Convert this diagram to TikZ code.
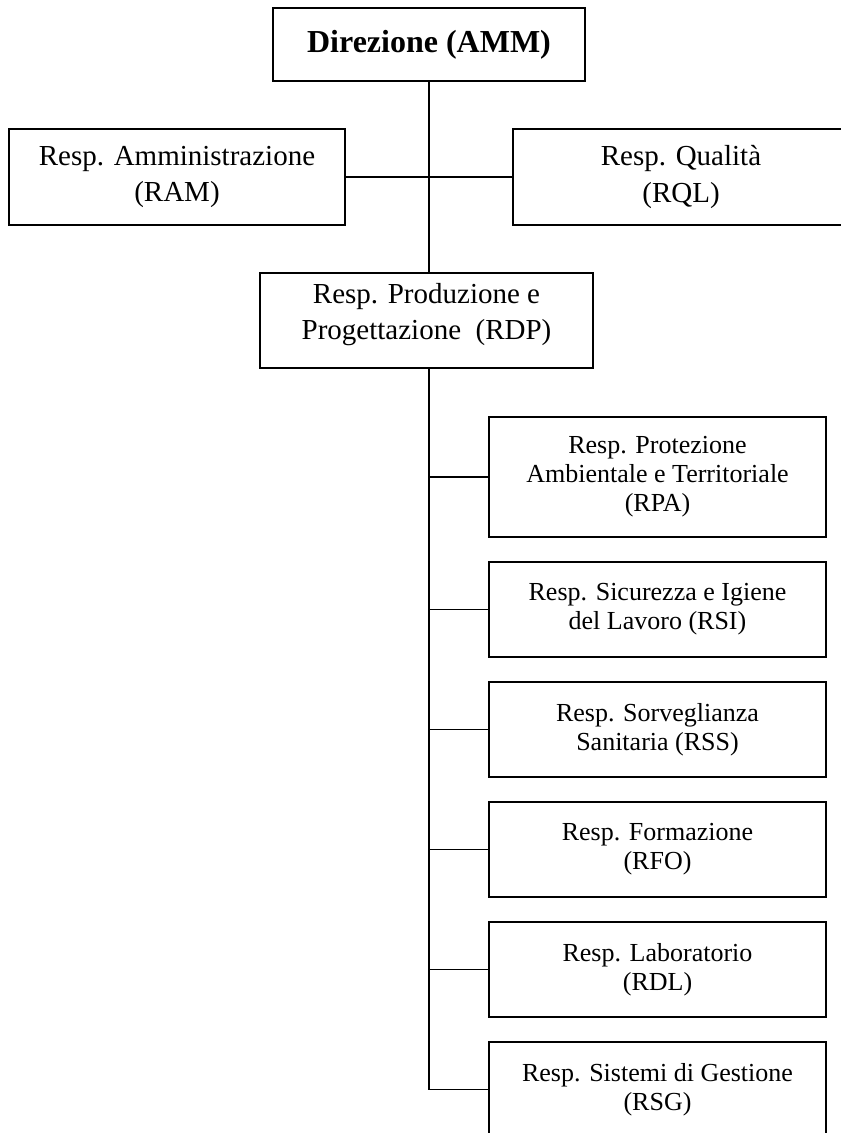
\documentclass[tikz,border=0pt]{standalone}
\usepackage{fontspec}
\setmainfont{Liberation Serif}
\usetikzlibrary{positioning}
\begin{document}
\begin{tikzpicture}[x=1pt, y=-1pt,
  ufficio/.style={draw, line width=1.6pt, align=center, inner sep=0pt,
    minimum width=336pt, minimum height=96pt, font=\fontsize{29}{36}\selectfont},
  reparto/.style={draw, line width=1.6pt, align=center, inner sep=0pt,
    minimum width=337pt, minimum height=95pt, font=\fontsize{26}{29}\selectfont},
  ramo/.style={line width=1.3pt},
  asse/.style={line width=2.2pt}]
% pagina 841 x 1133 (1pt = 1px), y verso il basso
\useasboundingbox (0,0) rectangle (841,1133);
\clip (0,0) rectangle (841,1133);
% direzione e staff
\node[ufficio, minimum width=312pt, minimum height=73pt, font=\fontsize{32}{38}\selectfont\bfseries]
  (amm) at (429,44.5) {Direzione (AMM)};
\node[ufficio] (ram) at (177,177) {Resp. Amministrazione\\(RAM)};
\node[ufficio] (rql) at (681,177) {Resp. Qualità\\(RQL)};
\node[ufficio, minimum width=333pt, minimum height=95pt] (rdp) at (426.5,320.5)
  {Resp. Produzione e\\Progettazione\ \ (RDP)\\[-18pt]\mbox{}};
% responsabili sotto RDP (passo 120)
\node[reparto, minimum height=120pt] (rpa) at (657.5,477)
  {Resp. Protezione\\Ambientale e Territoriale\\(RPA)};
\node[reparto] (rsi) at (657.5,609.5) {Resp. Sicurezza e Igiene\\del Lavoro (RSI)};
\node[reparto] (rss) at (657.5,729.5) {Resp. Sorveglianza\\Sanitaria (RSS)};
\node[reparto] (rfo) at (657.5,849.5) {Resp. Formazione\\(RFO)};
\node[reparto] (rdl) at (657.5,969.5) {Resp. Laboratorio\\(RDL)};
\node[reparto] (rsg) at (657.5,1089.5) {Resp. Sistemi di Gestione\\(RSG)};
% collegamenti
\coordinate (bus) at (amm.south |- rdp.south);
\draw[asse] (amm.south) -- (amm.south |- rdp.north);
\draw[ramo] (ram.east) -- (rql.west);
\draw[asse] (bus) -- (bus |- rsg.west);
\foreach \r in {rpa,rsi,rss,rfo,rdl,rsg}
  \draw[ramo] (bus |- \r.west) -- (\r.west);
\end{tikzpicture}
\end{document}
